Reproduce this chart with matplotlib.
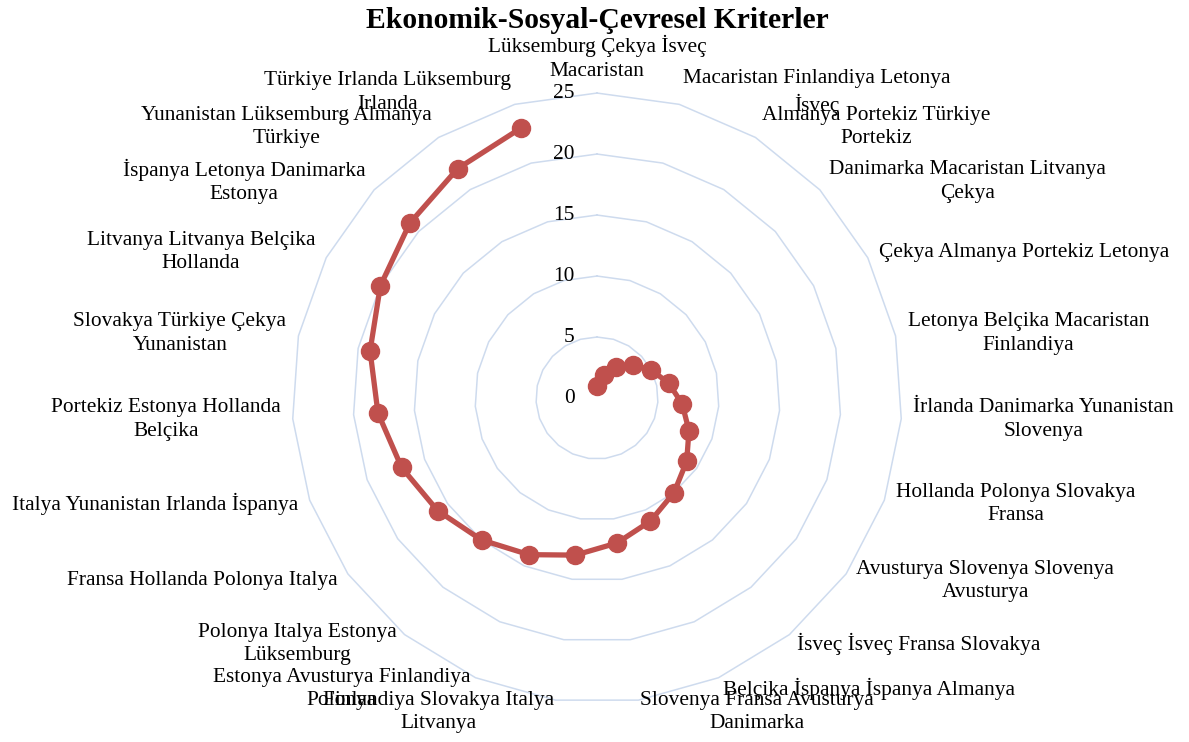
import numpy as np
import matplotlib
matplotlib.use('Agg')
import matplotlib.pyplot as plt

# --------------------------
# 全局绘图规范
# --------------------------
plt.rcParams['font.family'] = ['Liberation Serif', 'DejaVu Serif']
plt.rcParams['font.size'] = 15.4
COLOR_LINE = '#C0504D'
COLOR_GRID = '#CEDBEE'

# --------------------------
# 数据
# --------------------------
labels = [
    'Lüksemburg Çekya İsveç\nMacaristan',
    'Macaristan Finlandiya Letonya\nİsveç',
    'Almanya Portekiz Türkiye\nPortekiz',
    'Danimarka Macaristan Litvanya\nÇekya',
    'Çekya Almanya Portekiz Letonya',
    'Letonya Belçika Macaristan\nFinlandiya',
    'İrlanda Danimarka Yunanistan\nSlovenya',
    'Hollanda Polonya Slovakya\nFransa',
    'Avusturya Slovenya Slovenya\nAvusturya',
    'İsveç İsveç Fransa Slovakya',
    'Belçika İspanya İspanya Almanya',
    'Slovenya Fransa Avusturya\nDanimarka',
    'Finlandiya Slovakya Italya\nLitvanya',
    'Estonya Avusturya Finlandiya\nPolonya',
    'Polonya Italya Estonya\nLüksemburg',
    'Fransa Hollanda Polonya Italya',
    'Italya Yunanistan Irlanda İspanya',
    'Portekiz Estonya Hollanda\nBelçika',
    'Slovakya Türkiye Çekya\nYunanistan',
    'Litvanya Litvanya Belçika\nHollanda',
    'İspanya Letonya Danimarka\nEstonya',
    'Yunanistan Lüksemburg Almanya\nTürkiye',
    'Türkiye Irlanda Lüksemburg\nIrlanda',
]
values = [1, 2, 3, 4, 5, 6, 7, 8, 9, 10, 11, 12, 13, 14, 15, 16, 17, 18, 19, 20, 21, 22, 23]
r_ticks = [0, 5, 10, 15, 20, 25]
title = 'Ekonomik-Sosyal-Çevresel Kriterler'

# ========================
# 雷达图
# ========================
n = len(labels)
theta = np.arange(n) * 2 * np.pi / n
theta_c = np.append(theta, theta[0])

fig = plt.figure(figsize=(11.89, 7.42), dpi=100)
ax = fig.add_axes([0.2456, 0.0526, 0.513, 0.822], projection='polar')
ax.set_theta_zero_location('N')
ax.set_theta_direction(-1)
ax.set_ylim(0, r_ticks[-1])
ax.grid(False)
ax.spines['polar'].set_visible(False)
ax.set_xticks([])
ax.set_yticks([])
ax.patch.set_alpha(0)

# 多边形网格
for v in r_ticks[1:]:
    ax.plot(theta_c, [v] * (n + 1), color=COLOR_GRID, linewidth=1.1, zorder=1, clip_on=False)

# 刻度标签
for v in r_ticks:
    ax.annotate(str(v), xy=(0, v), xytext=(-16, 0), textcoords='offset points',
                ha='right', va='center')

# 数据线
ax.plot(theta, values, color=COLOR_LINE, linewidth=3.8, marker='o', markersize=13,
        zorder=3, clip_on=False)

# 类别标签
r_lab = r_ticks[-1] * 1.04
for t, lab in zip(theta, labels):
    s = np.sin(t)
    if abs(s) < 1e-6:
        ha, va = 'center', 'bottom'
    elif s > 0:
        ha, va = 'left', 'center'
    else:
        ha, va = 'right', 'center'
    ax.text(t, r_lab, lab, ha=ha, va=va, multialignment='center', linespacing=1.32)

fig.text(0.502, 0.973, title, ha='center', va='center', fontsize=21.3, fontweight='bold')

plt.savefig('out.png', dpi=100)
plt.close()
